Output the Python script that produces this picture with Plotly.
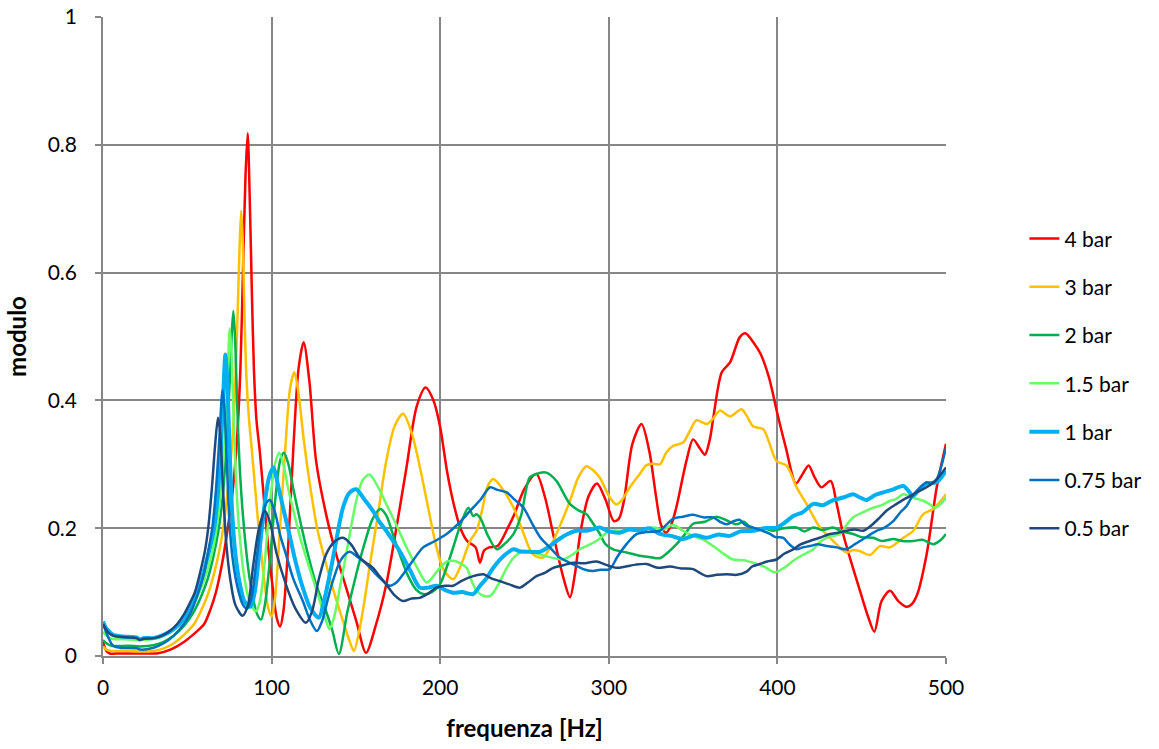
import plotly.graph_objects as go

# Frequency response modulus for several supply pressures
freq_4 = [0, 2, 4, 10, 20, 25, 32, 40, 48, 55, 60, 64, 67, 71, 74, 77, 79.5, 81.5, 83, 84.5, 85.8, 87, 88.2, 89.5, 91, 93, 95, 98, 101, 103, 105, 107, 110, 113, 116, 119, 122.4, 126.4, 132.3, 138.3, 144.2, 150.2, 156, 162, 168, 174, 180, 186, 191.3, 196, 200, 204, 208, 212, 216, 221, 223.6, 226, 229, 234, 240, 244, 250, 257, 262, 267, 273, 277, 280, 283, 288, 293, 298, 303, 306, 309, 314, 319.4, 324, 328, 331, 334, 337, 340, 346, 350, 354, 357, 360, 362, 367, 372, 377.7, 381, 386, 390, 395, 400, 405, 411, 415, 418.5, 422, 426, 431.6, 435, 439, 444, 449, 454, 457.5, 461.8, 466.8, 471.7, 476.7, 480, 483, 488.5, 494.5, 500]
val_4 = [0.022, 0.008, 0.004, 0.004, 0.004, 0.004, 0.004, 0.01, 0.022, 0.037, 0.05, 0.075, 0.1, 0.15, 0.2, 0.26, 0.34, 0.45, 0.6, 0.75, 0.818, 0.72, 0.58, 0.45, 0.37, 0.32, 0.26, 0.17, 0.1, 0.06, 0.046, 0.07, 0.18, 0.33, 0.45, 0.491, 0.43, 0.305, 0.222, 0.159, 0.107, 0.055, 0.005, 0.05, 0.112, 0.2, 0.295, 0.39, 0.42, 0.4, 0.358, 0.29, 0.238, 0.2, 0.18, 0.17, 0.146, 0.165, 0.17, 0.172, 0.2, 0.222, 0.262, 0.285, 0.25, 0.191, 0.123, 0.092, 0.13, 0.191, 0.25, 0.27, 0.245, 0.211, 0.215, 0.243, 0.332, 0.363, 0.321, 0.25, 0.205, 0.193, 0.205, 0.232, 0.305, 0.339, 0.325, 0.315, 0.34, 0.373, 0.444, 0.46, 0.499, 0.505, 0.49, 0.473, 0.436, 0.379, 0.326, 0.27, 0.285, 0.298, 0.28, 0.264, 0.274, 0.24, 0.191, 0.145, 0.102, 0.06, 0.038, 0.086, 0.102, 0.086, 0.077, 0.082, 0.097, 0.159, 0.264, 0.332]

freq_3 = [0, 2, 5, 15, 22, 30, 36, 42, 48, 54, 58, 62, 66, 69, 71.3, 74, 76.5, 78.5, 80, 81, 82, 83, 83.8, 85, 86.5, 88, 90, 92, 94, 96, 98, 100, 102, 105, 108, 111, 113.5, 116, 119, 122.4, 127, 132.3, 137, 142.3, 146, 148.8, 152, 155, 158, 163, 168, 173, 178, 183, 188, 193, 197.8, 202, 207.7, 212, 217.7, 221.6, 225, 228, 231.5, 236, 243.5, 249, 255, 261, 267, 272, 277, 282, 286.7, 291, 294.7, 300.6, 304.5, 308, 312.5, 318.4, 322, 325.3, 330.3, 334, 338.2, 344.1, 348, 352, 358, 362, 365.9, 371.8, 378.7, 382, 385.7, 391.6, 395, 399.5, 405.4, 411.4, 417.3, 421, 425.2, 433.1, 441, 445, 449, 454.9, 460.8, 466.8, 474.7, 480.6, 486.5, 492.5, 500]
val_3 = [0.015, 0.01, 0.008, 0.008, 0.007, 0.008, 0.012, 0.02, 0.033, 0.05, 0.07, 0.095, 0.13, 0.165, 0.2, 0.26, 0.33, 0.43, 0.55, 0.64, 0.697, 0.64, 0.55, 0.44, 0.374, 0.33, 0.27, 0.21, 0.157, 0.11, 0.075, 0.062, 0.09, 0.2, 0.32, 0.42, 0.444, 0.41, 0.34, 0.274, 0.2, 0.144, 0.1, 0.055, 0.025, 0.008, 0.04, 0.085, 0.138, 0.22, 0.305, 0.36, 0.379, 0.35, 0.295, 0.23, 0.17, 0.135, 0.12, 0.14, 0.18, 0.196, 0.23, 0.265, 0.277, 0.265, 0.232, 0.195, 0.159, 0.154, 0.18, 0.21, 0.243, 0.28, 0.297, 0.29, 0.279, 0.248, 0.237, 0.245, 0.264, 0.285, 0.298, 0.301, 0.3, 0.318, 0.329, 0.334, 0.352, 0.369, 0.363, 0.372, 0.384, 0.375, 0.386, 0.375, 0.359, 0.355, 0.335, 0.305, 0.298, 0.264, 0.238, 0.22, 0.201, 0.18, 0.162, 0.166, 0.164, 0.158, 0.172, 0.17, 0.185, 0.196, 0.222, 0.23, 0.253]

freq_2 = [0, 2, 5, 15, 22, 30, 36, 42, 48, 54, 58, 62, 65, 68.7, 71, 73, 75, 76.3, 77.3, 78.3, 79.5, 81, 83, 86, 89, 91.5, 93.7, 96, 99, 102, 105, 107.3, 110, 113, 116.5, 121, 126.4, 132.3, 136, 139.9, 145, 150.2, 155, 160, 164.5, 168, 172, 176, 181, 186, 189.9, 195, 199.8, 204, 207.7, 212, 216.7, 219.6, 221.5, 224, 228, 233.5, 238, 243.5, 248, 253, 257, 263, 268.9, 276.9, 282, 286.7, 290, 294.7, 298, 302.6, 310.5, 318.4, 324, 330.3, 335, 340.2, 345, 350, 357, 363.9, 370, 375.8, 380, 385.7, 392, 397.5, 404, 411.4, 416, 421.3, 427, 433.1, 438, 444.9, 450, 456.8, 462, 468.7, 474, 480.6, 486, 492.5, 497, 500]
val_2 = [0.025, 0.02, 0.016, 0.016, 0.015, 0.017, 0.022, 0.032, 0.047, 0.07, 0.092, 0.12, 0.15, 0.2, 0.25, 0.32, 0.42, 0.5, 0.54, 0.5, 0.4, 0.3, 0.22, 0.14, 0.09, 0.065, 0.057, 0.08, 0.15, 0.24, 0.305, 0.318, 0.3, 0.26, 0.217, 0.165, 0.112, 0.07, 0.04, 0.003, 0.07, 0.128, 0.175, 0.215, 0.23, 0.22, 0.19, 0.159, 0.125, 0.103, 0.097, 0.1, 0.112, 0.14, 0.17, 0.205, 0.232, 0.219, 0.222, 0.215, 0.19, 0.167, 0.175, 0.191, 0.22, 0.279, 0.285, 0.287, 0.274, 0.238, 0.228, 0.222, 0.21, 0.191, 0.175, 0.167, 0.162, 0.157, 0.155, 0.153, 0.162, 0.175, 0.19, 0.207, 0.21, 0.218, 0.212, 0.206, 0.21, 0.198, 0.2, 0.196, 0.2, 0.201, 0.195, 0.201, 0.197, 0.201, 0.195, 0.191, 0.186, 0.185, 0.18, 0.183, 0.18, 0.18, 0.182, 0.175, 0.182, 0.191]

freq_15 = [0, 2, 5, 15, 22, 30, 36, 42, 48, 54, 58, 62, 65, 67.3, 70, 72, 73.8, 75.2, 76.3, 77.5, 79, 81, 84, 87, 90.7, 93, 96, 99, 102, 104.5, 107, 110, 112.5, 117, 122.4, 127, 132.3, 134.3, 137, 140, 144.2, 150.2, 154, 158.1, 163, 168, 174, 180, 186, 191.9, 196, 199.8, 204, 207.7, 212, 215.7, 219, 221.6, 225, 229.6, 234, 239.5, 244, 249.4, 255, 263, 272.9, 278, 282.8, 292.7, 300.6, 306, 312.5, 319, 326.3, 332, 338.2, 344, 350, 356, 361.9, 368, 373.8, 380, 385.7, 392, 398.5, 404, 409.4, 415, 421.3, 425, 429.2, 433, 437.1, 441, 445, 450, 456.8, 462, 466.8, 470, 474.7, 480, 486.5, 490, 493.5, 497, 500]
val_15 = [0.038, 0.032, 0.027, 0.026, 0.025, 0.027, 0.032, 0.042, 0.058, 0.083, 0.105, 0.135, 0.165, 0.2, 0.26, 0.33, 0.43, 0.513, 0.47, 0.37, 0.27, 0.19, 0.12, 0.085, 0.07, 0.085, 0.15, 0.24, 0.3, 0.318, 0.3, 0.26, 0.232, 0.185, 0.138, 0.1, 0.055, 0.042, 0.06, 0.1, 0.159, 0.243, 0.275, 0.284, 0.265, 0.238, 0.205, 0.17, 0.14, 0.115, 0.125, 0.138, 0.148, 0.149, 0.145, 0.138, 0.115, 0.102, 0.095, 0.094, 0.11, 0.138, 0.155, 0.164, 0.162, 0.156, 0.151, 0.158, 0.167, 0.18, 0.196, 0.196, 0.198, 0.196, 0.201, 0.198, 0.205, 0.196, 0.188, 0.182, 0.172, 0.16, 0.151, 0.15, 0.146, 0.14, 0.131, 0.138, 0.149, 0.158, 0.167, 0.178, 0.185, 0.188, 0.191, 0.205, 0.217, 0.224, 0.232, 0.236, 0.243, 0.245, 0.253, 0.248, 0.243, 0.238, 0.232, 0.238, 0.248]

freq_1 = [0, 1.5, 3, 6, 10, 15, 20, 21.8, 24, 30, 36, 42, 48, 52, 56, 60, 63, 65.9, 68, 70, 71.5, 72.6, 73.7, 75, 76.5, 78.5, 81, 84, 87.5, 90, 93, 96, 98.5, 101, 104, 107, 110.5, 114, 118.5, 123, 128, 131, 135.3, 139, 142.3, 146, 150.2, 155, 160.1, 164, 168, 172, 176, 182, 187.9, 193, 197.8, 203, 207.7, 213, 219.6, 223.6, 227, 231.5, 237, 243.5, 247.2, 253, 259, 264, 269, 275, 280.8, 287, 294.7, 300, 306.5, 312, 318.4, 324, 330.3, 337, 344.1, 351, 358, 365, 371.8, 378, 385.7, 392, 399.5, 404, 409.4, 415, 421.3, 427, 433.1, 439, 445, 449, 452.9, 458, 462.8, 468, 474.7, 480.6, 484, 488.5, 494.5, 500]
val_1 = [0.054, 0.045, 0.04, 0.033, 0.031, 0.03, 0.029, 0.026, 0.028, 0.028, 0.033, 0.042, 0.058, 0.075, 0.1, 0.135, 0.165, 0.2, 0.25, 0.33, 0.42, 0.472, 0.43, 0.33, 0.23, 0.16, 0.115, 0.085, 0.077, 0.1, 0.17, 0.24, 0.28, 0.295, 0.265, 0.23, 0.191, 0.15, 0.107, 0.075, 0.06, 0.085, 0.138, 0.19, 0.232, 0.255, 0.261, 0.245, 0.227, 0.21, 0.196, 0.18, 0.164, 0.135, 0.107, 0.107, 0.11, 0.103, 0.099, 0.1, 0.097, 0.11, 0.12, 0.138, 0.155, 0.167, 0.164, 0.163, 0.163, 0.17, 0.18, 0.19, 0.196, 0.196, 0.201, 0.195, 0.193, 0.198, 0.196, 0.2, 0.191, 0.188, 0.183, 0.189, 0.185, 0.19, 0.188, 0.195, 0.196, 0.2, 0.201, 0.208, 0.219, 0.225, 0.238, 0.236, 0.244, 0.248, 0.253, 0.248, 0.244, 0.252, 0.256, 0.26, 0.266, 0.251, 0.26, 0.27, 0.272, 0.29]

freq_075 = [0, 1.5, 3, 6, 10, 20, 22, 30, 36, 42, 48, 52, 56, 60, 62.5, 64.8, 67, 69, 70.9, 72, 73.5, 75, 77, 80, 83, 85.5, 88, 91, 94, 97, 99, 102, 105, 108.5, 113, 118.5, 123, 126.8, 130, 133, 136.3, 141, 146.2, 151, 156.2, 163, 170, 174, 178, 184, 189.9, 197, 203.8, 210, 217.7, 224, 229.6, 234, 239.5, 244, 249.4, 254, 259.3, 265, 270.9, 276, 280.8, 286, 290.7, 295, 300.6, 305, 310.5, 316, 322.4, 330.3, 334, 338.2, 344, 350, 356, 361.9, 366, 369.8, 374, 377.7, 381, 385.7, 390, 395.6, 399, 403.5, 407, 411.4, 415, 419.3, 424, 429.2, 435, 441, 446, 450.9, 455, 458.8, 463, 468.7, 473, 476.7, 480, 484.6, 488.5, 491, 494.5, 497, 500]
val_075 = [0.05, 0.04, 0.03, 0.016, 0.013, 0.012, 0.01, 0.013, 0.02, 0.032, 0.05, 0.068, 0.095, 0.13, 0.165, 0.2, 0.26, 0.34, 0.416, 0.39, 0.3, 0.21, 0.15, 0.105, 0.08, 0.074, 0.09, 0.15, 0.21, 0.24, 0.244, 0.225, 0.19, 0.159, 0.12, 0.086, 0.055, 0.039, 0.055, 0.085, 0.117, 0.15, 0.163, 0.155, 0.144, 0.125, 0.11, 0.115, 0.128, 0.15, 0.17, 0.18, 0.191, 0.205, 0.227, 0.245, 0.264, 0.26, 0.256, 0.245, 0.232, 0.21, 0.186, 0.17, 0.154, 0.147, 0.141, 0.135, 0.133, 0.135, 0.136, 0.155, 0.175, 0.19, 0.194, 0.196, 0.205, 0.215, 0.218, 0.221, 0.217, 0.217, 0.21, 0.206, 0.211, 0.213, 0.205, 0.201, 0.197, 0.191, 0.186, 0.185, 0.175, 0.167, 0.17, 0.172, 0.175, 0.172, 0.17, 0.167, 0.175, 0.183, 0.19, 0.196, 0.2, 0.211, 0.225, 0.235, 0.25, 0.264, 0.272, 0.27, 0.277, 0.295, 0.326]

freq_05 = [0, 1.5, 3, 6, 10, 15, 20, 21.8, 24, 30, 35, 40, 44, 48, 51, 54.5, 58, 60.5, 62.4, 64.5, 66.5, 68.2, 69.5, 71, 73, 75.5, 78.5, 82.8, 86, 89, 92.5, 96, 99, 103, 108.5, 114, 120.4, 124, 128, 132.3, 137, 142.3, 147, 152.2, 156, 160.1, 164, 168, 173, 178, 183, 187.9, 193, 197.8, 203, 207.7, 213, 219.6, 225.6, 230, 235.5, 241, 247.4, 252, 257.1, 262, 267, 273, 278.8, 285, 292.7, 298, 304.5, 310, 316, 322.4, 329, 336.2, 343, 350, 354, 358, 364, 369.8, 376, 381.7, 385, 389.6, 394, 399.5, 404, 409.4, 414, 419.3, 425, 431.2, 436, 441, 446, 450.9, 456, 460.8, 465, 470.7, 475, 480.6, 484, 488.5, 494, 500]
val_05 = [0.05, 0.043, 0.037, 0.032, 0.03, 0.029, 0.028, 0.025, 0.027, 0.028, 0.032, 0.04, 0.05, 0.065, 0.08, 0.1, 0.135, 0.165, 0.2, 0.26, 0.33, 0.373, 0.35, 0.27, 0.18, 0.12, 0.08, 0.063, 0.08, 0.14, 0.2, 0.227, 0.21, 0.16, 0.112, 0.075, 0.052, 0.07, 0.12, 0.159, 0.178, 0.185, 0.175, 0.154, 0.146, 0.138, 0.125, 0.112, 0.095, 0.086, 0.09, 0.091, 0.098, 0.107, 0.11, 0.11, 0.118, 0.125, 0.128, 0.122, 0.117, 0.112, 0.107, 0.115, 0.125, 0.13, 0.138, 0.142, 0.146, 0.145, 0.148, 0.143, 0.138, 0.14, 0.143, 0.144, 0.138, 0.14, 0.137, 0.136, 0.13, 0.125, 0.127, 0.128, 0.127, 0.132, 0.14, 0.144, 0.148, 0.151, 0.16, 0.167, 0.175, 0.18, 0.185, 0.191, 0.193, 0.196, 0.198, 0.196, 0.205, 0.217, 0.228, 0.238, 0.245, 0.253, 0.258, 0.264, 0.275, 0.295]

series = [
    ("4 bar", freq_4, val_4, "#FF0000", 2.5),
    ("3 bar", freq_3, val_3, "#FFC000", 2.5),
    ("2 bar", freq_2, val_2, "#00B050", 2.5),
    ("1.5 bar", freq_15, val_15, "#66FF66", 2.5),
    ("1 bar", freq_1, val_1, "#00B0F0", 4.0),
    ("0.75 bar", freq_075, val_075, "#0070C0", 2.5),
    ("0.5 bar", freq_05, val_05, "#1F497D", 2.5),
]

fig = go.Figure()
for i, (name, f, v, color, w) in enumerate(series):
    fig.add_trace(go.Scatter(
        x=f, y=v, name=name, mode="lines",
        line=dict(color=color, width=w, shape="spline", smoothing=0.8),
        legendgroup=f"g{i}",
    ))

FONT = "Lato, 'Open Sans', sans-serif"
GRID = "#878787"

fig.update_layout(
    width=1159, height=749,
    margin=dict(l=103, r=213, t=17, b=93),
    paper_bgcolor="white", plot_bgcolor="white",
    font=dict(family=FONT, size=21, color="#000000"),
    showlegend=True,
    legend=dict(
        x=1.093, xanchor="left", y=0.426, yanchor="middle",
        font=dict(family=FONT, size=21, color="#000000"),
        tracegroupgap=18, bgcolor="rgba(0,0,0,0)",
    ),
    xaxis=dict(
        range=[0, 500], dtick=100, tick0=0, automargin=False,
        showgrid=True, gridcolor=GRID, gridwidth=1.6,
        showline=True, linecolor=GRID, linewidth=1.6,
        zeroline=False,
        ticks="outside", ticklen=6, tickcolor=GRID, tickwidth=1.6,
        ticklabelstandoff=6,
        title=dict(text="<b>frequenza [Hz]</b>", font=dict(family=FONT, size=24), standoff=22),
    ),
    yaxis=dict(
        range=[0, 1], dtick=0.2, tick0=0, automargin=False,
        showgrid=True, gridcolor=GRID, gridwidth=1.6,
        showline=True, linecolor=GRID, linewidth=1.6,
        zeroline=False,
        ticks="outside", ticklen=6, tickcolor=GRID, tickwidth=1.6,
        ticklabelstandoff=14,
        title=dict(text="<b>modulo</b>", font=dict(family=FONT, size=24), standoff=14),
    ),
)

fig.write_html("out.html")
